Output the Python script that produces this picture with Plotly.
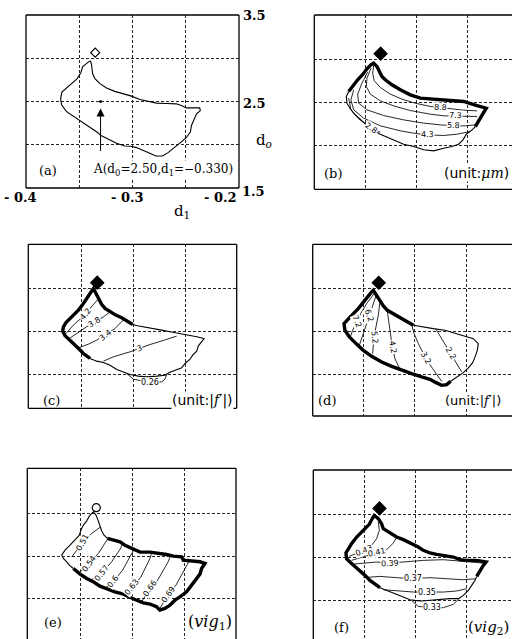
import plotly.graph_objects as go

W, H = 512, 639

# ---------------------------------------------------------------------------
# Data: every coordinate is (d1, d0)
# ---------------------------------------------------------------------------
START = (-0.335, 3.065)      # start design, marked at the top of every region
POINT_A = (-0.330, 2.50)     # point A quoted in panel (a)

# (a) feasible region
A_BOUNDARY = [
    (-0.3394, 2.971), (-0.3384, 2.920), (-0.3375, 2.823), (-0.3353, 2.765), (-0.3306, 2.706),
    (-0.3244, 2.656), (-0.3166, 2.617), (-0.3088, 2.589), (-0.3009, 2.562), (-0.2931, 2.523),
    (-0.2853, 2.500), (-0.2775, 2.481), (-0.2681, 2.477), (-0.2588, 2.473), (-0.2541, 2.453),
    (-0.2494, 2.426), (-0.2369, 2.426), (-0.2363, 2.395), (-0.2400, 2.356), (-0.2422, 2.298),
    (-0.2447, 2.220), (-0.2456, 2.150), (-0.2494, 2.084), (-0.2541, 2.033), (-0.2603, 1.967),
    (-0.2666, 1.909), (-0.2719, 1.870), (-0.2781, 1.870), (-0.2838, 1.901), (-0.2894, 1.928),
    (-0.2963, 1.967), (-0.3019, 1.982), (-0.3072, 1.986), (-0.3150, 2.018), (-0.3228, 2.064),
    (-0.3291, 2.103), (-0.3338, 2.150), (-0.3384, 2.189), (-0.3463, 2.259), (-0.3541, 2.317),
    (-0.3619, 2.383), (-0.3666, 2.461), (-0.3675, 2.531), (-0.3663, 2.609), (-0.3619, 2.656),
    (-0.3572, 2.706), (-0.3519, 2.765), (-0.3484, 2.835), (-0.3469, 2.901), (-0.3425, 2.947),
]

# (b) spot size, unit um
B_BOUNDARY = [
    (-0.3663, 2.627), (-0.3621, 2.697), (-0.3575, 2.763), (-0.3523, 2.828), (-0.3484, 2.890),
    (-0.3444, 2.936), (-0.3418, 2.956), (-0.3386, 2.917), (-0.3359, 2.859), (-0.3337, 2.801),
    (-0.3304, 2.763), (-0.3239, 2.705), (-0.3157, 2.647), (-0.3059, 2.589), (-0.2961, 2.550),
    (-0.2863, 2.542), (-0.2716, 2.531), (-0.2536, 2.512), (-0.2405, 2.465), (-0.2314, 2.434),
    (-0.2340, 2.384), (-0.2373, 2.311), (-0.2422, 2.222),
    (-0.2454, 2.183), (-0.2510, 2.133), (-0.2542, 2.068), (-0.2585, 2.017), (-0.2650, 1.990),
    (-0.2732, 1.971), (-0.2830, 1.940), (-0.2928, 1.952), (-0.3026, 1.990), (-0.3124, 2.017),
    (-0.3206, 2.056), (-0.3288, 2.095), (-0.3353, 2.133), (-0.3435, 2.183), (-0.3500, 2.249),
    (-0.3556, 2.311), (-0.3608, 2.369), (-0.3647, 2.427), (-0.3680, 2.492), (-0.3686, 2.569),
]
B_THICK_END = 22
B_LEVELS = ["8.8", "7.3", "5.8", "4.3", "2.8"]
B_CONTOURS = [
    [(-0.3418, 2.929), (-0.3428, 2.840), (-0.3412, 2.751), (-0.3353, 2.674), (-0.3255, 2.597),
     (-0.3141, 2.539), (-0.3010, 2.492), (-0.2863, 2.454), (-0.2765, 2.442), (-0.2667, 2.427),
     (-0.2536, 2.411), (-0.2405, 2.403)],
    [(-0.3444, 2.898), (-0.3484, 2.782), (-0.3490, 2.685), (-0.3451, 2.597), (-0.3353, 2.519),
     (-0.3222, 2.461), (-0.3059, 2.407), (-0.2863, 2.365), (-0.2732, 2.346), (-0.2618, 2.346),
     (-0.2520, 2.338), (-0.2405, 2.338)],
    [(-0.3477, 2.851), (-0.3533, 2.724), (-0.3575, 2.597), (-0.3565, 2.492), (-0.3484, 2.415),
     (-0.3320, 2.349), (-0.3124, 2.299), (-0.2928, 2.261), (-0.2765, 2.241), (-0.2634, 2.230),
     (-0.2520, 2.230), (-0.2422, 2.241)],
    [(-0.3614, 2.647), (-0.3641, 2.531), (-0.3614, 2.415), (-0.3516, 2.319), (-0.3353, 2.230),
     (-0.3157, 2.172), (-0.3026, 2.145), (-0.2895, 2.125), (-0.2732, 2.118), (-0.2601, 2.133),
     (-0.2471, 2.164)],
    [(-0.3663, 2.550), (-0.3641, 2.415), (-0.3565, 2.311), (-0.3467, 2.222), (-0.3353, 2.156)],
]
B_LABEL_AT = [(-0.2765, 2.442), (-0.2618, 2.346), (-0.2634, 2.230), (-0.2895, 2.125), (-0.3435, 2.203)]

# (c) |f'| sensitivity
C_BOUNDARY = [
    (-0.3006, 2.578), (-0.3058, 2.617), (-0.3113, 2.656), (-0.3171, 2.687), (-0.3226, 2.726),
    (-0.3274, 2.765), (-0.3306, 2.811), (-0.3332, 2.874), (-0.3355, 2.940), (-0.3387, 2.998),
    (-0.3426, 2.928), (-0.3458, 2.862), (-0.3494, 2.804), (-0.3532, 2.745), (-0.3574, 2.695),
    (-0.3613, 2.648), (-0.3652, 2.601), (-0.3677, 2.551), (-0.3684, 2.500), (-0.3661, 2.446),
    (-0.3613, 2.395), (-0.3548, 2.317), (-0.3484, 2.239), (-0.3419, 2.181),
    (-0.3355, 2.150), (-0.3290, 2.134), (-0.3226, 2.103), (-0.3161, 2.053), (-0.3097, 2.025),
    (-0.3032, 1.994), (-0.2952, 1.975), (-0.2871, 1.967), (-0.2774, 1.975), (-0.2694, 1.986),
    (-0.2652, 2.018), (-0.2597, 2.045), (-0.2532, 2.072), (-0.2500, 2.123), (-0.2452, 2.173),
    (-0.2426, 2.220), (-0.2387, 2.267), (-0.2371, 2.329), (-0.2339, 2.375), (-0.2316, 2.414),
    (-0.2387, 2.434), (-0.2484, 2.453), (-0.2565, 2.469), (-0.2645, 2.492), (-0.2726, 2.512),
    (-0.2823, 2.531), (-0.2903, 2.543), (-0.2961, 2.562),
]
C_THICK_END = 23
C_LEVELS = ["4.2", "3.8", "3.4", "3", "0.26"]
C_CONTOURS = [
    [(-0.3652, 2.473), (-0.3581, 2.570), (-0.3500, 2.656), (-0.3419, 2.765), (-0.3371, 2.835),
     (-0.3329, 2.889)],
    [(-0.3629, 2.407), (-0.3548, 2.473), (-0.3452, 2.551), (-0.3290, 2.667), (-0.3232, 2.718)],
    [(-0.3532, 2.305), (-0.3435, 2.348), (-0.3355, 2.395), (-0.3177, 2.531), (-0.3090, 2.640)],
    [(-0.3290, 2.150), (-0.3194, 2.200), (-0.3032, 2.259), (-0.2839, 2.344), (-0.2710, 2.391),
     (-0.2581, 2.442)],
    [(-0.3065, 2.006), (-0.3000, 1.940), (-0.2839, 1.901), (-0.2726, 1.909), (-0.2694, 1.940),
     (-0.2677, 1.994)],
]
C_LABEL_AT = [(-0.3468, 2.699), (-0.3381, 2.602), (-0.3274, 2.453), (-0.2942, 2.298), (-0.2839, 1.901)]

# (d) |f'| sensitivity, second element
D_BOUNDARY = [
    (-0.3013, 2.570), (-0.3084, 2.616), (-0.3159, 2.667), (-0.3214, 2.705), (-0.3266, 2.744),
    (-0.3305, 2.795), (-0.3338, 2.860), (-0.3370, 2.919), (-0.3403, 2.977), (-0.3425, 2.950),
    (-0.3458, 2.899), (-0.3500, 2.829), (-0.3549, 2.764), (-0.3597, 2.705), (-0.3646, 2.647),
    (-0.3688, 2.589), (-0.3679, 2.512), (-0.3636, 2.434), (-0.3571, 2.357), (-0.3500, 2.279),
    (-0.3419, 2.209), (-0.3321, 2.143), (-0.3224, 2.093), (-0.3127, 2.047), (-0.3029, 2.008),
    (-0.2932, 1.969), (-0.2851, 1.942), (-0.2792, 1.903), (-0.2737, 1.872), (-0.2688, 1.880),
    (-0.2649, 1.919),
    (-0.2591, 1.969), (-0.2526, 2.019), (-0.2477, 2.074), (-0.2435, 2.136), (-0.2412, 2.202),
    (-0.2390, 2.279), (-0.2380, 2.357), (-0.2429, 2.415), (-0.2510, 2.442), (-0.2607, 2.473),
    (-0.2705, 2.512), (-0.2818, 2.531), (-0.2916, 2.547),
]
D_THICK_END = 30
D_LEVELS = ["2.2", "3.2", "4.2", "5.2", "6.2", "7.2"]
D_CONTOURS = [
    [(-0.2792, 2.523), (-0.2747, 2.434), (-0.2695, 2.329), (-0.2649, 2.240), (-0.2597, 2.136),
     (-0.2542, 2.027)],
    [(-0.3029, 2.578), (-0.3006, 2.473), (-0.2964, 2.357), (-0.2890, 2.182), (-0.2825, 2.066),
     (-0.2737, 1.919)],
    [(-0.3266, 2.733), (-0.3247, 2.570), (-0.3234, 2.415), (-0.3218, 2.318), (-0.3192, 2.182),
     (-0.3149, 2.074), (-0.3104, 2.027)],
    [(-0.3338, 2.841), (-0.3354, 2.686), (-0.3377, 2.550), (-0.3396, 2.434), (-0.3409, 2.240)],
    [(-0.3377, 2.911), (-0.3409, 2.802), (-0.3442, 2.686), (-0.3461, 2.609), (-0.3500, 2.473),
     (-0.3539, 2.337)],
    [(-0.3396, 2.938), (-0.3468, 2.822), (-0.3526, 2.705), (-0.3565, 2.609), (-0.3604, 2.512),
     (-0.3630, 2.422)],
]
D_LABEL_AT = [(-0.2649, 2.240), (-0.2890, 2.182), (-0.3218, 2.318), (-0.3396, 2.434),
              (-0.3442, 2.686), (-0.3565, 2.609)]

# (e) vignetting factor vig1
E_BOUNDARY = [
    (-0.3244, 2.706), (-0.3187, 2.687), (-0.3123, 2.667), (-0.3075, 2.628), (-0.3027, 2.601),
    (-0.2979, 2.570), (-0.2931, 2.547), (-0.2835, 2.547), (-0.2772, 2.539), (-0.2676, 2.519),
    (-0.2612, 2.500), (-0.2532, 2.492), (-0.2516, 2.453), (-0.2452, 2.446), (-0.2356, 2.434),
    (-0.2308, 2.414), (-0.2340, 2.356), (-0.2356, 2.290), (-0.2388, 2.239), (-0.2420, 2.189),
    (-0.2452, 2.134), (-0.2484, 2.084), (-0.2548, 2.025), (-0.2596, 1.986), (-0.2644, 1.928),
    (-0.2692, 1.889), (-0.2740, 1.870), (-0.2772, 1.909), (-0.2835, 1.940), (-0.2899, 1.955),
    (-0.2963, 1.986), (-0.3027, 2.025), (-0.3107, 2.064), (-0.3171, 2.084), (-0.3251, 2.123),
    (-0.3315, 2.150), (-0.3379, 2.200), (-0.3442, 2.239), (-0.3506, 2.290), (-0.3570, 2.356),
    (-0.3609, 2.395), (-0.3634, 2.434), (-0.3666, 2.473), (-0.3682, 2.512), (-0.3650, 2.570),
    (-0.3602, 2.628), (-0.3554, 2.687), (-0.3513, 2.745), (-0.3497, 2.804), (-0.3474, 2.862),
    (-0.3442, 2.912), (-0.3417, 2.967), (-0.3379, 3.018), (-0.3353, 2.979), (-0.3331, 2.912),
    (-0.3315, 2.842), (-0.3299, 2.796), (-0.3276, 2.745),
]
E_THICK_END = 39
E_LEVELS = ["0.51", "0.54", "0.57", "0.6", "0.63", "0.66", "0.69"]
E_CONTOURS = [
    [(-0.3586, 2.492), (-0.3481, 2.656), (-0.3395, 2.765), (-0.3315, 2.835)],
    [(-0.3522, 2.298), (-0.3417, 2.414), (-0.3331, 2.531), (-0.3244, 2.695)],
    [(-0.3411, 2.212), (-0.3299, 2.298), (-0.3203, 2.434), (-0.3123, 2.578), (-0.3097, 2.648)],
    [(-0.3267, 2.123), (-0.3187, 2.200), (-0.3097, 2.337), (-0.2989, 2.578)],
    [(-0.3091, 2.056), (-0.3011, 2.134), (-0.2925, 2.251), (-0.2835, 2.473), (-0.2819, 2.539)],
    [(-0.2915, 1.967), (-0.2835, 2.123), (-0.2765, 2.212), (-0.2660, 2.434), (-0.2637, 2.512)],
    [(-0.2740, 1.889), (-0.2660, 2.056), (-0.2586, 2.161), (-0.2484, 2.375), (-0.2458, 2.446)],
]
E_LABEL_AT = [(-0.3481, 2.656), (-0.3417, 2.414), (-0.3299, 2.298), (-0.3187, 2.200),
              (-0.3011, 2.134), (-0.2835, 2.123), (-0.2660, 2.056)]

# (f) vignetting factor vig2
F_BOUNDARY = [
    (-0.3346, 2.143), (-0.3395, 2.182), (-0.3444, 2.229), (-0.3493, 2.287), (-0.3543, 2.345),
    (-0.3592, 2.391), (-0.3641, 2.442), (-0.3674, 2.481), (-0.3680, 2.547), (-0.3657, 2.597),
    (-0.3625, 2.655), (-0.3575, 2.733), (-0.3543, 2.771), (-0.3493, 2.829), (-0.3451, 2.880),
    (-0.3428, 2.934), (-0.3402, 2.984), (-0.3362, 2.946), (-0.3330, 2.888), (-0.3313, 2.829),
    (-0.3280, 2.802), (-0.3231, 2.771), (-0.3182, 2.733), (-0.3116, 2.702), (-0.3067, 2.674),
    (-0.3018, 2.655), (-0.2969, 2.616), (-0.2920, 2.578), (-0.2854, 2.547), (-0.2789, 2.531),
    (-0.2707, 2.519), (-0.2625, 2.500), (-0.2559, 2.469), (-0.2493, 2.461), (-0.2395, 2.461),
    (-0.2330, 2.453), (-0.2303, 2.442), (-0.2330, 2.403), (-0.2362, 2.337), (-0.2395, 2.275),
    (-0.2411, 2.229), (-0.2444, 2.171), (-0.2477, 2.112), (-0.2526, 2.054), (-0.2575, 2.016),
    (-0.2657, 2.016), (-0.2756, 2.004), (-0.2854, 1.996), (-0.2936, 1.988), (-0.3002, 1.996),
    (-0.3051, 2.004), (-0.3116, 2.035), (-0.3182, 2.066), (-0.3231, 2.093), (-0.3297, 2.120),
]
F_THICK_END = 39
F_LEVELS = ["0.43", "0.41", "0.39", "0.37", "0.35", "0.33"]
F_CONTOURS = [
    [(-0.3648, 2.508), (-0.3575, 2.539), (-0.3500, 2.578), (-0.3428, 2.636), (-0.3379, 2.713),
     (-0.3352, 2.810), (-0.3362, 2.907)],
    [(-0.3625, 2.461), (-0.3510, 2.500), (-0.3379, 2.547), (-0.3280, 2.585), (-0.3215, 2.663),
     (-0.3182, 2.725)],
    [(-0.3634, 2.415), (-0.3510, 2.430), (-0.3379, 2.442), (-0.3248, 2.430), (-0.3116, 2.442),
     (-0.2920, 2.461), (-0.2723, 2.469), (-0.2526, 2.453), (-0.2336, 2.430)],
    [(-0.3510, 2.260), (-0.3346, 2.275), (-0.3182, 2.260), (-0.3018, 2.248), (-0.2854, 2.260),
     (-0.2690, 2.248), (-0.2526, 2.236), (-0.2402, 2.248)],
    [(-0.3313, 2.120), (-0.3182, 2.105), (-0.3018, 2.093), (-0.2887, 2.093), (-0.2723, 2.093),
     (-0.2592, 2.105), (-0.2493, 2.132)],
    [(-0.3034, 1.996), (-0.2969, 1.926), (-0.2838, 1.911), (-0.2723, 1.911), (-0.2625, 1.950),
     (-0.2559, 2.027)],
]
F_LABEL_AT = [(-0.3500, 2.578), (-0.3379, 2.547), (-0.3248, 2.430), (-0.3018, 2.248),
              (-0.2887, 2.093), (-0.2838, 1.911)]

# grid positions shared by all panels
X_GRID = [-0.35, -0.30, -0.25]
Y_GRID = [2.0, 2.5, 3.0]

# ---------------------------------------------------------------------------
# Layout of the six panels (pixel boxes in the 512x639 page)
# ---------------------------------------------------------------------------
SERIF = "DejaVu Serif"
SANS = "DejaVu Sans"


def fx(px):
    return px / W


def fy(py):
    return 1 - py / H


PANELS = [
    dict(box=(26.0, 239.0, 15.0, 188.0), xr=(-0.4, -0.2), yr=(1.5, 3.5), frame="lrtb",
         bnd=A_BOUNDARY, thick=None, levels=[], contours=[], labels=[], angles=[],
         marker=("diamond-open", 7)),
    dict(box=(314.3, 512.0, 15.0, 189.3), xr=(-0.4, -0.2062), yr=(1.495, 3.513), frame="ltb",
         bnd=B_BOUNDARY, thick=B_THICK_END, levels=B_LEVELS, contours=B_CONTOURS,
         labels=B_LABEL_AT, angles=[3, 2, 2, 1, 35], marker=("diamond", 10)),
    dict(box=(28.3, 236.7, 244.3, 408.3), xr=(-0.4017, -0.2), yr=(1.6, 3.513), frame="lrtb",
         bnd=C_BOUNDARY, thick=C_THICK_END, levels=C_LEVELS, contours=C_CONTOURS,
         labels=C_LABEL_AT, angles=[-50, -30, -38, -20, 0], marker=("diamond", 10)),
    dict(box=(312.7, 512.0, 244.3, 416.0), xr=(-0.3993, -0.2052), yr=(1.515, 3.512), frame="ltb",
         bnd=D_BOUNDARY, thick=D_THICK_END, levels=D_LEVELS, contours=D_CONTOURS,
         labels=D_LABEL_AT, angles=[60, 62, 80, 85, 72, 68], marker=("diamond", 10)),
    dict(box=(27.3, 236.0, 468.3, 639.0), xr=(-0.4012, -0.201), yr=(1.533, 3.525), frame="ltr",
         bnd=E_BOUNDARY, thick=E_THICK_END, levels=E_LEVELS, contours=E_CONTOURS,
         labels=E_LABEL_AT, angles=[-62, -55, -52, -52, -52, -55, -55],
         marker=("circle-open", 8)),
    dict(box=(313.3, 512.0, 470.0, 639.0), xr=(-0.4001, -0.2048), yr=(1.547, 3.512), frame="lt",
         bnd=F_BOUNDARY, thick=F_THICK_END, levels=F_LEVELS, contours=F_CONTOURS,
         labels=F_LABEL_AT, angles=[-22, -12, -3, 0, 0, 0], marker=("diamond", 10)),
]

fig = go.Figure()
shapes = []
annotations = []
layout = dict(
    width=W, height=H, autosize=False,
    margin=dict(l=0, r=0, t=0, b=0),
    paper_bgcolor="white", plot_bgcolor="white",
    showlegend=False,
)


def xy(points):
    return [p[0] for p in points], [p[1] for p in points]


for i, p in enumerate(PANELS, start=1):
    sfx = "" if i == 1 else str(i)
    xref, yref = "x" + sfx, "y" + sfx
    x0, x1, top, bottom = p["box"]
    grid = dict(showgrid=True, gridcolor="#262626", gridwidth=1, griddash="3px,2px",
                zeroline=False, showline=False, ticks="", showticklabels=False,
                fixedrange=True)
    layout["xaxis" + sfx] = dict(domain=[fx(x0), fx(x1)], range=list(p["xr"]),
                                 tickvals=X_GRID, anchor=yref, **grid)
    layout["yaxis" + sfx] = dict(domain=[fy(bottom), fy(top)], range=list(p["yr"]),
                                 tickvals=Y_GRID, anchor=xref, **grid)

    # frame
    sides = {"l": (0, 0, 0, 1), "r": (1, 1, 0, 1), "t": (0, 1, 1, 1), "b": (0, 1, 0, 0)}
    for s in p["frame"]:
        a, b, c, d = sides[s]
        shapes.append(dict(type="line", xref=xref + " domain", yref=yref + " domain",
                           x0=a, x1=b, y0=c, y1=d, line=dict(color="black", width=1.3)))

    # contour lines with in-line labels
    for pts in p["contours"]:
        cx, cy = xy(pts)
        fig.add_trace(go.Scatter(x=cx, y=cy, mode="lines", xaxis=xref, yaxis=yref,
                                 line=dict(color="#111", width=0.9), hoverinfo="skip"))
    for lev, (lx, ly), ang in zip(p["levels"], p["labels"], p["angles"]):
        annotations.append(dict(x=lx, y=ly, xref=xref, yref=yref, text=lev, showarrow=False,
                                textangle=ang, bgcolor="white", borderpad=0,
                                font=dict(family=SANS, size=8, color="black")))

    # region boundary: thin part and heavy part
    bnd = p["bnd"]
    k = p["thick"]
    if k is None:
        thin = bnd + [bnd[0]]
        heavy = []
    else:
        heavy = bnd[:k + 1]
        thin = bnd[k:] + [bnd[0]]
    tx, ty = xy(thin)
    fig.add_trace(go.Scatter(x=tx, y=ty, mode="lines", xaxis=xref, yaxis=yref,
                             line=dict(color="black", width=1.1), hoverinfo="skip"))
    if heavy:
        hx, hy = xy(heavy)
        fig.add_trace(go.Scatter(x=hx, y=hy, mode="lines", xaxis=xref, yaxis=yref,
                                 line=dict(color="black", width=3.4), hoverinfo="skip"))

    # start design marker
    sym, size = p["marker"]
    fig.add_trace(go.Scatter(x=[START[0]], y=[START[1]], mode="markers", xaxis=xref, yaxis=yref,
                             marker=dict(symbol=sym, size=size, color="black",
                                         line=dict(color="black", width=1.2)),
                             hoverinfo="skip"))

# point A with its arrow
fig.add_trace(go.Scatter(x=[POINT_A[0]], y=[POINT_A[1]], mode="markers", xaxis="x", yaxis="y",
                         marker=dict(symbol="circle", size=3, color="black"), hoverinfo="skip"))
annotations.append(dict(x=POINT_A[0], y=POINT_A[1] - 0.08, xref="x", yref="y",
                        ax=POINT_A[0], ay=1.91, axref="x", ayref="y", text="",
                        showarrow=True, arrowhead=2, arrowsize=1.6, arrowwidth=1,
                        arrowcolor="black", standoff=0))
annotations.append(dict(x=fx(91), y=fy(170), xref="paper", yref="paper", xanchor="left",
                        yanchor="middle", showarrow=False, bgcolor="white", borderpad=1,
                        text="A(d<sub>0</sub>=%.2f,d<sub>1</sub>=\u2212%.3f)"
                             % (POINT_A[1], -POINT_A[0]),
                        font=dict(family=SERIF, size=12, color="black")))


# axis numbering of panel (a)
def txt(s, x, y, anchor="center", size=13, family=SERIF, bg=None):
    d = dict(x=fx(x), y=fy(y), xref="paper", yref="paper", xanchor=anchor, yanchor="middle",
             showarrow=False, text=s, font=dict(family=family, size=size, color="black"))
    if bg:
        d.update(bgcolor=bg, borderpad=0)
    annotations.append(d)


txt("<b>- 0.4</b>", 20, 197)
txt("<b>- 0.3</b>", 127, 197)
txt("<b>- 0.2</b>", 220, 197)
txt("<b>1.5</b>", 240, 191, "left")
txt("<b>3.5</b>", 241, 15, "left")
txt("<b>2.5</b>", 241, 103, "left")
txt("d<sub>1</sub>", 182, 211, size=15)
txt("d<sub><i>o</i></sub>", 264, 140, size=15)

# panel tags and units
txt("(a)", 48, 170)
txt("(b)", 333, 173)
txt("(c)", 51, 400)
txt("(d)", 327, 400)
txt("(e)", 53, 622)
txt("(f)", 341, 627)
MU = '<span style="font-family:DejaVu Serif"><i>\u03bcm</i></span>'
FP = '<span style="font-family:DejaVu Serif"><i>f\u2032</i></span>'
txt("(unit:" + MU + ")", 443, 173, "left", size=14, family=SANS, bg="white")
txt("(unit:|" + FP + "|)", 234, 400, "right", size=14, family=SANS, bg="white")
txt("(unit:|" + FP + "|)", 444, 401, "left", size=13, family=SANS, bg="white")
txt("(<i>vig</i><sub>1</sub>)", 234, 622, "right", size=16)
txt("(<i>vig</i><sub>2</sub>)", 511, 627, "right", size=15)

layout["shapes"] = shapes
layout["annotations"] = annotations
fig.update_layout(**layout)
fig.write_html("out.html")
